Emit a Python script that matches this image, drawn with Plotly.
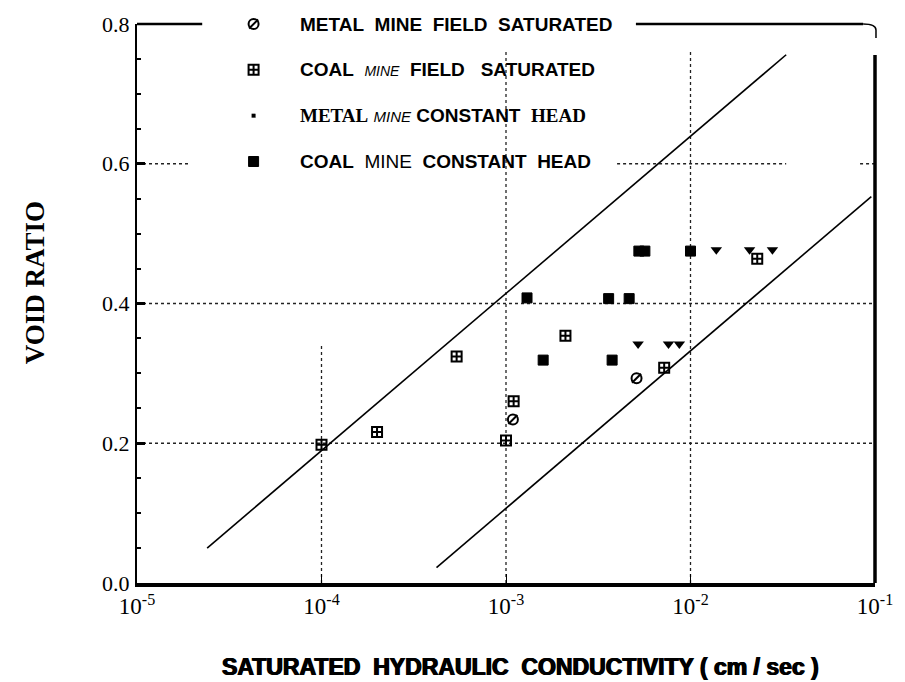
import numpy as np
import plotly.graph_objects as go

# ---- data: void ratio vs saturated hydraulic conductivity (cm/sec) ----
metal_field_k = [1.09e-3, 5.1e-3]
metal_field_e = [0.234, 0.293]

coal_field_k = [1.0e-4, 2.0e-4, 5.4e-4, 1.0e-3, 1.1e-3, 2.1e-3, 7.2e-3, 2.3e-2]
coal_field_e = [0.198, 0.216, 0.324, 0.204, 0.260, 0.354, 0.308, 0.464]

metal_head_k = [5.2e-3, 7.6e-3, 8.7e-3, 1.38e-2, 2.09e-2, 2.78e-2]
metal_head_e = [0.342, 0.342, 0.342, 0.477, 0.477, 0.477]

coal_head_k = [1.30e-3, 1.59e-3, 3.6e-3, 3.76e-3, 4.65e-3, 5.25e-3, 5.66e-3, 1.0e-2]
coal_head_e = [0.408, 0.319, 0.407, 0.319, 0.407, 0.475, 0.475, 0.475]

# envelope lines bounding the measurements
upper_k = [2.4e-5, 3.3e-2]
upper_e = [0.05, 0.756]
lower_k = [4.2e-4, 9.55e-2]
lower_e = [0.022, 0.553]

x_tick_vals = [1e-5, 1e-4, 1e-3, 1e-2, 1e-1]
x_tick_text = ["10<sup>-5</sup>", "10<sup>-4</sup>", "10<sup>-3</sup>", "10<sup>-2</sup>", "10<sup>-1</sup>"]
y_tick_vals = [0.0, 0.2, 0.4, 0.6, 0.8]
y_tick_text = ["0.0", "0.2", "0.4", "0.6", "0.8"]

SANS = "Liberation Sans, Arial, sans-serif"
SERIF = "Liberation Serif, Times New Roman, serif"
NB = "\u00a0"

legend_labels = [
    f"METAL{NB} MINE{NB} FIELD{NB} SATURATED",
    f"COAL{NB} <span style='font-weight:normal;font-style:italic;font-size:14px'>MINE</span>{NB} FIELD{NB}{NB} SATURATED",
    f"<span style='font-family:Liberation Serif'>METAL</span> <span style='font-weight:normal;font-style:italic;font-size:15px'>MINE</span> CONSTANT{NB} <span style='font-family:Liberation Serif'>HEAD</span>",
    f"COAL{NB} <span style='font-weight:normal'>MINE</span>{NB} CONSTANT{NB} HEAD",
]

W, H = 905, 682
ML, MR, MT, MB = 137, 21, 22, 99
PW, PH = W - ML - MR, H - MT - MB


def px_x(p):
    return (p - ML) / PW


def px_y(p):
    return (H - MB - p) / PH


def kx(k):
    return (np.log10(k) + 5) / 4


fig = go.Figure()

# envelope lines
for ks, es in [(upper_k, upper_e), (lower_k, lower_e)]:
    fig.add_trace(go.Scatter(x=ks, y=es, mode="lines",
                             line=dict(color="black", width=1.6),
                             showlegend=False, hoverinfo="skip"))

# data markers
fig.add_trace(go.Scatter(x=metal_field_k, y=metal_field_e, mode="markers",
                         marker=dict(symbol="circle-open", size=10, color="black",
                                     line=dict(width=2, color="black")),
                         showlegend=False))
fig.add_trace(go.Scatter(x=metal_field_k, y=metal_field_e, mode="markers",
                         marker=dict(symbol="line-ne", size=9, color="black",
                                     line=dict(width=2, color="black")),
                         showlegend=False))
fig.add_trace(go.Scatter(x=coal_field_k, y=coal_field_e, mode="markers",
                         marker=dict(symbol="square-cross-open", size=10, color="black",
                                     line=dict(width=2, color="black")),
                         showlegend=False))
fig.add_trace(go.Scatter(x=metal_head_k, y=metal_head_e, mode="markers",
                         marker=dict(symbol="triangle-down", size=10, color="black",
                                     line=dict(width=0)),
                         showlegend=False))
fig.add_trace(go.Scatter(x=coal_head_k, y=coal_head_e, mode="markers",
                         marker=dict(symbol="square", size=10, color="black",
                                     line=dict(width=1, color="black")),
                         showlegend=False))

# hand-drawn legend: markers on an overlay axis spanning the plot area
legend_rows_px = [22 + 46 * i for i in range(4)]
leg_x = px_x(255)
leg_y = [px_y(p) for p in legend_rows_px]
leg_styles = [
    [dict(symbol="circle-open", size=10, line=dict(width=2, color="black")),
     dict(symbol="line-ne", size=9, line=dict(width=2, color="black"))],
    [dict(symbol="square-cross-open", size=10, line=dict(width=2, color="black"))],
    [dict(symbol="square", size=4, line=dict(width=0))],
    [dict(symbol="square", size=10, line=dict(width=1, color="black"))],
]
for row, styles in enumerate(leg_styles):
    for st in styles:
        fig.add_trace(go.Scatter(x=[leg_x], y=[leg_y[row]], mode="markers",
                                 marker=dict(color="black", **st),
                                 xaxis="x2", yaxis="y2", showlegend=False,
                                 hoverinfo="skip", cliponaxis=False))

annotations = []
for row, label in enumerate(legend_labels):
    annotations.append(dict(x=px_x(300), y=leg_y[row], xref="paper", yref="paper",
                            text=f"<b>{label}</b>", showarrow=False,
                            xanchor="left", yanchor="middle",
                            font=dict(family=SANS, size=19, color="black")))

# axis titles
annotations.append(dict(x=px_x(525), y=px_y(667), xref="paper", yref="paper",
                        text="<b>SATURATED  HYDRAULIC  CONDUCTIVITY ( cm / sec )</b>",
                        showarrow=False, xanchor="center", yanchor="middle",
                        font=dict(family=SANS, size=23, color="black",
                                  shadow="0.7px 0 0 black, -0.7px 0 0 black")))
annotations.append(dict(x=px_x(34), y=px_y(282), xref="paper", yref="paper",
                        text="<b>VOID RATIO</b>", textangle=-90,
                        showarrow=False, xanchor="center", yanchor="middle",
                        font=dict(family=SERIF, size=27, color="black")))

shapes = []
grid = dict(color="#222222", width=1.3, dash="dot")
# horizontal grid lines
for yv in [0.2, 0.4]:
    shapes.append(dict(type="line", xref="x domain", yref="y", x0=0, x1=1,
                       y0=yv, y1=yv, line=grid, layer="below"))
for a, b in [(1e-5, 1.9e-5), (4.0e-3, 3.3e-2), (8.3e-2, 1e-1)]:
    shapes.append(dict(type="line", xref="x domain", yref="y", x0=kx(a), x1=kx(b),
                       y0=0.6, y1=0.6, line=grid, layer="below"))
# vertical grid lines
for xv, top in [(1e-4, 0.34), (1e-3, 0.76), (1e-2, 0.76)]:
    shapes.append(dict(type="line", xref="x domain", yref="y", x0=kx(xv), x1=kx(xv),
                       y0=0, y1=top, line=grid, layer="below"))

# frame pieces
frame = dict(color="black", width=2.5)
shapes.append(dict(type="line", xref="paper", yref="paper", x0=0, x1=px_x(203),
                   y0=1, y1=1, line=frame))
shapes.append(dict(type="line", xref="paper", yref="paper", x0=px_x(642), x1=px_x(872),
                   y0=1, y1=1, line=frame))
shapes.append(dict(type="path", xref="paper", yref="paper",
                   path=f"M {px_x(872)} 1 Q {px_x(885)} 1 {px_x(885)} {px_y(28)} L {px_x(885)} {px_y(36)}",
                   line=dict(color="black", width=1.5)))
shapes.append(dict(type="line", xref="paper", yref="paper", x0=1, x1=1,
                   y0=0, y1=px_y(53), line=dict(color="black", width=3.5)))

fig.update_layout(
    width=W, height=H,
    margin=dict(l=ML, r=MR, t=MT, b=MB, pad=0),
    paper_bgcolor="white", plot_bgcolor="white",
    showlegend=False,
    xaxis=dict(type="log", range=[-5, -1], showgrid=False, zeroline=False,
               showline=True, linecolor="black", linewidth=3.5,
               ticks="inside", ticklen=9, tickwidth=1.3, tickcolor="black",
               tickvals=x_tick_vals, ticktext=x_tick_text,
               tickfont=dict(family=SERIF, size=23, color="black")),
    yaxis=dict(range=[0, 0.8], showgrid=False, zeroline=False,
               showline=True, linecolor="black", linewidth=2,
               ticks="inside", ticklen=8, tickwidth=2.5, tickcolor="black",
               tickvals=y_tick_vals, ticktext=y_tick_text,
               ticklabelstandoff=1,
               tickfont=dict(family=SERIF, size=22, color="black"),
               minor=dict(ticks="inside", ticklen=4, tickwidth=1.5,
                          tickcolor="black", dtick=0.05, showgrid=False)),
    xaxis2=dict(overlaying="x", range=[0, 1], visible=False),
    yaxis2=dict(overlaying="y", range=[0, 1], visible=False),
    annotations=annotations,
    shapes=shapes,
)

fig.write_html("out.html")
